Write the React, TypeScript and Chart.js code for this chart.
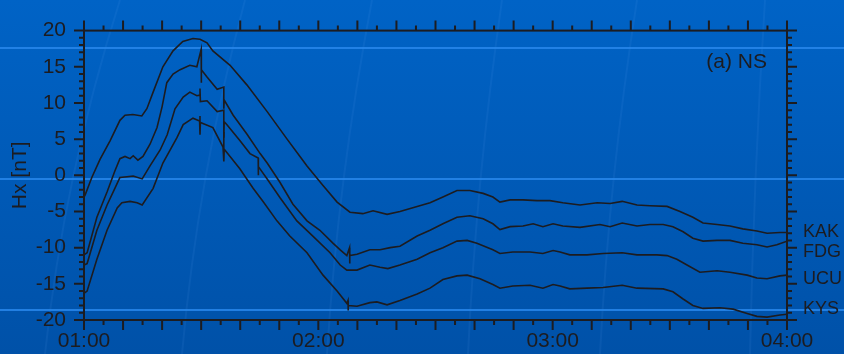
import React, { useEffect, useRef } from 'react';
import { Chart, registerables } from 'chart.js';

Chart.register(...registerables);

// ---- data (minutes after 01:00 UT, Hx in nT) ----
const hourTickMinutes = [0, 60, 120, 180];
const hourTickLabels = ['01:00', '02:00', '03:00', '04:00'];

const stationNames = ['KAK', 'FDG', 'UCU', 'KYS'];
const stationLabelLevels = [-7.9, -10.6, -14.3, -18.5];
const panelLabel = '(a) NS';
const yAxisTitle = 'Hx [nT]';

const kakTimes = [0, 0.3, 2.0, 4.1, 6.7, 9.2, 10.5, 12.5, 14.8, 16.1, 17.7, 20.2, 22.8, 25.3, 27.9, 29.7, 31.5, 33.0, 37.4, 41.7, 46.9, 52.0, 55.3, 57.1, 61.2, 64.8, 68.1, 71.4, 74.0, 77.6, 80.9, 85.3, 88.6, 91.9, 95.5, 98.8, 102.2, 104.7, 106.5, 109.1, 112.4, 116.0, 119.3, 122.6, 127.0, 131.4, 134.7, 137.8, 141.6, 144.9, 149.3, 152.6, 155.9, 158.5, 162.1, 165.4, 168.7, 172.3, 174.9, 178.2, 180];
const kakValues = [-3.0, -2.7, -0.3, 2.2, 4.8, 7.6, 8.3, 8.4, 8.2, 9.2, 11.5, 15.0, 17.2, 18.5, 18.9, 18.8, 18.3, 17.2, 15.2, 12.5, 8.8, 5.0, 2.6, 1.3, -1.4, -3.7, -5.1, -5.3, -4.9, -5.4, -5.0, -4.3, -3.8, -3.0, -2.1, -2.1, -2.5, -3.0, -3.7, -3.4, -3.4, -3.5, -3.5, -3.8, -4.1, -3.8, -3.9, -3.6, -4.1, -4.2, -4.3, -5.0, -5.8, -6.6, -6.8, -7.0, -7.4, -7.7, -8.0, -7.9, -7.9];

const fdgTimes = [0, 0.8, 3.3, 5.9, 7.9, 9.2, 10.5, 11.8, 12.6, 13.8, 15.1, 16.9, 18.7, 20.0, 21.2, 22.8, 24.6, 27.1, 28.9, 30.0, 30.0, 30.1, 31.5, 34.1, 35.8, 35.8, 35.9, 38.2, 41.7, 45.1, 46.9, 50.2, 53.5, 57.1, 60.4, 63.8, 65.6, 67.3, 68.0, 68.0, 68.1, 69.9, 73.2, 75.8, 78.4, 80.9, 85.3, 88.6, 91.9, 95.5, 98.8, 102.2, 104.7, 106.5, 109.1, 112.4, 115.0, 117.5, 120.1, 122.6, 127.0, 132.1, 134.7, 137.8, 141.6, 144.9, 148.3, 150.8, 153.4, 155.9, 158.5, 162.1, 165.4, 168.7, 172.3, 174.9, 177.4, 180];
const fdgValues = [-11.0, -10.7, -5.8, -2.3, 0.6, 2.3, 2.6, 2.3, 2.7, 2.1, 2.6, 4.3, 6.6, 9.5, 12.8, 14.0, 14.6, 15.2, 15.0, 17.4, 12.8, 14.6, 13.6, 11.9, 12.2, 9.2, 10.4, 8.3, 5.7, 3.0, 1.7, -1.0, -4.0, -6.3, -7.6, -9.4, -10.3, -11.1, -10.0, -12.2, -11.1, -10.9, -10.3, -10.3, -10.0, -9.8, -8.4, -7.6, -6.7, -5.8, -5.6, -6.0, -6.7, -7.5, -7.1, -7.0, -6.7, -7.1, -6.7, -7.0, -7.2, -6.8, -7.1, -6.6, -7.0, -6.8, -6.8, -7.1, -7.8, -8.7, -9.1, -9.0, -9.0, -9.4, -9.6, -9.9, -9.6, -9.1];

const ucuTimes = [0, 0.8, 3.3, 5.9, 7.9, 9.2, 11.0, 12.6, 14.9, 16.9, 19.5, 21.3, 23.3, 25.4, 27.1, 28.9, 29.7, 29.7, 29.8, 31.5, 34.1, 35.8, 35.8, 35.9, 36.6, 39.9, 42.5, 44.6, 44.6, 44.7, 46.9, 50.2, 54.5, 58.6, 63.0, 65.6, 67.3, 69.9, 73.2, 75.8, 77.8, 80.9, 85.3, 88.6, 91.9, 95.5, 98.1, 100.6, 104.7, 106.5, 109.8, 114.2, 117.5, 120.1, 121.9, 124.4, 128.8, 132.9, 137.8, 141.6, 146.7, 149.3, 151.8, 154.4, 157.7, 162.1, 165.4, 169.8, 172.3, 174.9, 178.2, 180];
const ucuValues = [-12.4, -12.2, -7.6, -4.1, -1.8, -0.3, -0.2, -0.1, -0.5, 1.3, 3.5, 5.6, 9.2, 10.8, 11.5, 11.0, 11.1, 12.0, 10.2, 10.3, 8.8, 9.0, 5.2, 7.4, 7.0, 4.8, 3.0, 2.4, 0.0, 1.2, -0.5, -3.1, -6.3, -8.4, -10.7, -12.4, -13.1, -13.1, -12.4, -12.7, -12.9, -12.4, -11.6, -10.7, -10.0, -9.1, -9.0, -9.4, -10.3, -10.8, -10.6, -10.6, -10.8, -10.4, -10.6, -11.0, -11.0, -10.8, -10.7, -11.0, -11.0, -11.1, -11.6, -12.4, -13.4, -13.2, -13.4, -13.8, -14.2, -14.3, -13.9, -13.8];

const kysTimes = [0, 0.8, 3.3, 5.9, 8.5, 9.7, 11.8, 13.6, 14.9, 17.7, 20.2, 23.8, 25.4, 27.9, 29.6, 29.7, 29.7, 29.8, 33.0, 35.6, 35.8, 35.8, 35.9, 37.4, 39.9, 43.3, 45.8, 49.4, 52.7, 57.1, 61.2, 64.8, 67.3, 67.6, 67.6, 67.7, 69.9, 73.2, 75.0, 77.6, 80.9, 85.3, 88.6, 91.9, 95.5, 98.1, 101.4, 104.7, 106.5, 109.8, 114.2, 117.5, 120.1, 121.9, 124.4, 128.8, 132.9, 137.8, 141.6, 148.3, 150.8, 153.4, 155.9, 158.5, 162.8, 166.2, 169.8, 172.3, 174.9, 178.2, 180];
const kysValues = [-16.3, -16.0, -11.6, -7.6, -4.5, -3.8, -3.6, -3.8, -4.1, -1.8, 1.7, 5.2, 7.0, 7.9, 7.5, 8.2, 5.6, 7.3, 6.6, 3.9, 6.0, 1.9, 3.6, 2.6, 0.9, -1.8, -3.6, -6.3, -8.4, -10.7, -13.8, -16.0, -17.7, -17.3, -18.7, -18.0, -18.1, -17.6, -17.5, -17.9, -17.3, -16.4, -15.6, -14.4, -13.9, -13.8, -14.3, -15.1, -15.6, -15.3, -15.2, -15.6, -15.1, -15.3, -15.7, -15.6, -15.5, -15.2, -15.6, -15.7, -16.1, -17.1, -18.0, -18.4, -18.3, -18.5, -19.1, -19.5, -19.6, -19.3, -19.2];

const seriesTimes = [kakTimes, fdgTimes, ucuTimes, kysTimes];
const seriesValues = [kakValues, fdgValues, ucuValues, kysValues];

const FONT = '"Liberation Sans", Arial, Helvetica, sans-serif';
const INK = '#1c1c20';

const decorPlugin = {
  id: 'decor',
  beforeDraw(chart: any) {
    const { ctx, width, height } = chart;
    ctx.save();
    const g = ctx.createLinearGradient(0, 0, 0, height);
    g.addColorStop(0, '#0063c6');
    g.addColorStop(1, '#0051a8');
    ctx.fillStyle = g;
    ctx.fillRect(0, 0, width, height);
    // faint slanted streaks of the slide background
    ctx.strokeStyle = 'rgba(110,180,255,0.08)';
    ctx.lineWidth = 2;
    const streaks = [[120, 45], [245, 182], [372, 327], [502, 468], [637, 600], [765, 750]];
    streaks.forEach(([a, b]) => {
      ctx.beginPath();
      ctx.moveTo(a, 0);
      ctx.quadraticCurveTo(a - (a - b) * 0.75, height * 0.5, b, height);
      ctx.stroke();
    });
    // light horizontal bands
    ctx.strokeStyle = 'rgba(40,135,235,0.85)';
    ctx.lineWidth = 2;
    [48, 179, 310].forEach((yy) => {
      ctx.beginPath();
      ctx.moveTo(0, yy);
      ctx.lineTo(width, yy);
      ctx.stroke();
    });
    ctx.restore();
  },
  afterDraw(chart: any) {
    const { ctx, chartArea, scales } = chart;
    const { left, right, top, bottom } = chartArea;
    const xs = scales.x;
    const ys = scales.y;
    ctx.save();
    ctx.strokeStyle = INK;
    ctx.lineWidth = 2;
    ctx.strokeRect(left, top, right - left, bottom - top);
    ctx.beginPath();
    for (let m = 0; m <= 180; m += 5) {
      const px = xs.getPixelForValue(m);
      const len = m % 10 === 0 ? 10 : 5;
      ctx.moveTo(px, bottom);
      ctx.lineTo(px, bottom + len);
      ctx.moveTo(px, top);
      ctx.lineTo(px, top - len);
    }
    for (let v = -20; v <= 20; v += 1) {
      const py = ys.getPixelForValue(v);
      const len = v % 5 === 0 ? 10 : 5;
      ctx.moveTo(left, py);
      ctx.lineTo(left - len, py);
      ctx.moveTo(right, py);
      ctx.lineTo(right + len, py);
    }
    ctx.stroke();

    ctx.fillStyle = INK;
    ctx.textBaseline = 'middle';
    ctx.textAlign = 'left';
    ctx.font = `18px ${FONT}`;
    stationNames.forEach((name, i) => {
      ctx.fillText(name, right + 16, ys.getPixelForValue(stationLabelLevels[i]));
    });
    ctx.font = `21px ${FONT}`;
    ctx.textAlign = 'right';
    ctx.fillText(panelLabel, right - 20, top + 32);
    ctx.restore();
  },
};

export default function App() {
  const canvasRef = useRef<HTMLCanvasElement | null>(null);

  useEffect(() => {
    const canvas = canvasRef.current;
    if (!canvas) return;
    const datasets = stationNames.map((name, i) => ({
      label: name,
      data: seriesTimes[i].map((t, j) => ({ x: t, y: seriesValues[i][j] })),
      borderColor: INK,
      borderWidth: 1.6,
      pointRadius: 0,
      tension: 0,
      fill: false,
    }));
    const chart = new Chart(canvas, {
      type: 'line',
      data: { datasets },
      plugins: [decorPlugin],
      options: {
        animation: false,
        responsive: false,
        devicePixelRatio: 1,
        layout: { padding: { top: 19, right: 57, left: 0, bottom: 0 } },
        plugins: { legend: { display: false }, tooltip: { enabled: false } },
        scales: {
          x: {
            type: 'linear',
            min: 0,
            max: 180,
            position: 'bottom',
            grid: { display: false, drawTicks: false },
            border: { display: false },
            ticks: {
              stepSize: 60,
              autoSkip: false,
              maxRotation: 0,
              padding: 9,
              color: INK,
              font: { family: FONT, size: 21 },
              callback: (value: any) => {
                const k = hourTickMinutes.indexOf(Number(value));
                return k >= 0 ? hourTickLabels[k] : '';
              },
            },
            afterFit: (s: any) => {
              s.height = 34;
            },
          },
          y: {
            type: 'linear',
            min: -20,
            max: 20,
            position: 'left',
            grid: { display: false, drawTicks: false },
            border: { display: false },
            title: {
              display: true,
              text: yAxisTitle,
              color: INK,
              font: { family: FONT, size: 21 },
              padding: { top: 8, bottom: 0 },
            },
            ticks: {
              stepSize: 5,
              autoSkip: false,
              padding: 18,
              color: INK,
              font: { family: FONT, size: 21 },
            },
            afterFit: (s: any) => {
              s.width = 84;
            },
          },
        },
      },
    });
    return () => chart.destroy();
  }, []);

  return (
    <div style={{ position: 'fixed', left: 0, top: 0, width: 844, height: 354, overflow: 'hidden' }}>
      <canvas ref={canvasRef} width={844} height={354} style={{ display: 'block', width: 844, height: 354 }} />
    </div>
  );
}
